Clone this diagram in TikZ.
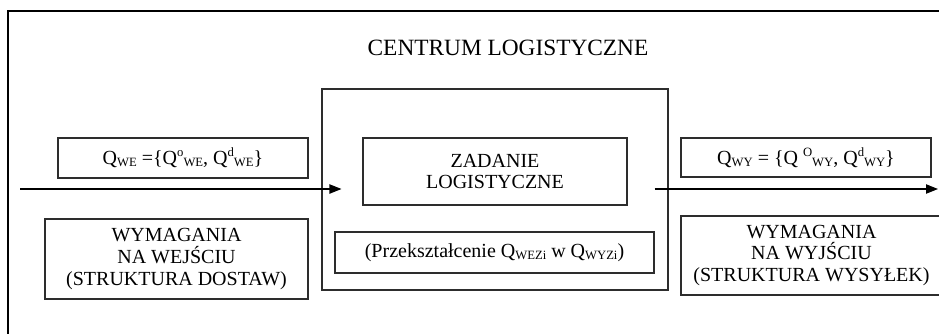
\documentclass[tikz,border=0pt]{standalone}
\usepackage{fontspec}
\setmainfont{Liberation Serif}
\usetikzlibrary{arrows.meta}

\definecolor{linegray}{RGB}{45,45,45}

% small indices set next to the Q symbols
\newcommand\lowidx[1]{\raisebox{-0.25ex}{\fontsize{9.5}{9.5}\selectfont #1}}
\newcommand\highidx[1]{\raisebox{0.85ex}{\fontsize{9.5}{9.5}\selectfont #1}}

\tikzset{
  box/.style={draw=linegray, line width=0.8pt, rectangle, inner sep=0pt,
    align=center, font=\fontsize{15}{16.3}\selectfont},
  flow/.style={line width=0.8pt, -{Triangle[length=9pt,width=7pt]}},
  frame/.style={line width=1.6pt}
}

\begin{document}
\begin{tikzpicture}[x=0.75pt,y=-0.75pt]

% Page area
\clip (0,0) rectangle (939,333);

% Outer frame (top and left edges)
\draw[frame] (8,345) -- (8,11) -- (950,11);

% Title
\node[font=\fontsize{17.5}{20}\selectfont] (title) at (508,48) {CENTRUM LOGISTYCZNE};

% Centre block
\node[box, minimum width=259.5pt, minimum height=150.75pt] (centrum) at (495,189.5) {};
\node[box, minimum width=198pt, minimum height=50.25pt] (zadanie) at (495,171.5)
  {ZADANIE\\LOGISTYCZNE};
\node[box, minimum width=239.25pt, minimum height=30.75pt] (przeksz) at (494.5,252.5)
  {(Przekształcenie Q\lowidx{WEZi} w Q\lowidx{WYZi})};

% Input side
\node[box, minimum width=187.5pt, minimum height=30pt] (qwe) at (183,158)
  {Q\lowidx{WE} =\{Q\highidx{o}\lowidx{WE}, Q\highidx{d}\lowidx{WE}\}};
\node[box, minimum width=197.25pt, minimum height=60pt] (wejscie) at (176.5,259)
  {WYMAGANIA\\NA WEJŚCIU\\(STRUKTURA DOSTAW)};

% Output side
\node[box, minimum width=187.5pt, minimum height=29.25pt] (qwy) at (806,157.5)
  {Q\lowidx{WY} = \{Q \highidx{O}\lowidx{WY}, Q\highidx{d}\lowidx{WY}\}};
\node[box, minimum width=195.75pt, minimum height=59.25pt] (wyjscie) at (811.5,255.5)
  {WYMAGANIA\\NA WYJŚCIU\\(STRUKTURA WYSYŁEK)};

% Flows in and out
\coordinate (in) at (20,189);
\coordinate (out) at (938,189);
\draw[flow] (in) -- ([xshift=15pt]centrum.west |- in);
\draw[flow] ([xshift=-10.5pt]centrum.east |- out) -- (out);

\end{tikzpicture}
\end{document}
